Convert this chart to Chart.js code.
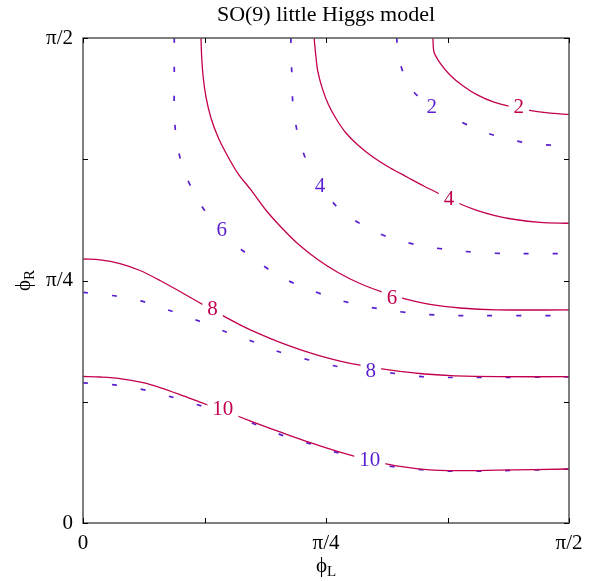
<!DOCTYPE html>
<html>
<head>
<meta charset="utf-8">
<script src="https://cdn.jsdelivr.net/npm/chart.js@4"></script>
<style>
html, body { margin: 0; padding: 0; background: #fff; }
</style>
</head>
<body>
<canvas id="grafico" width="597" height="581"></canvas>
<script>
// angles in degrees: 0..90 stands for 0..π/2
const tickLabels = {0: '0', 45: 'π/4', 90: 'π/2'};

// solid contours [phiL, phiR]
const solid2 = [[64.8,90],[65.0,87.4],[66.1,85.4],[68.0,83.1],[70.4,81.1],[73.1,79.4],[76.1,78.1],[79.1,77.3],[82.4,76.6],[86.1,76.1],[90,75.8]];
const solid4 = [[42.8,90],[43.1,86.85],[43.5,83.7],[44.3,80.7],[45.4,77.75],[46.9,74.97],[48.7,72.37],[50.9,70.15],[53.7,67.92],[56.9,65.88],[60.0,64.21],[63.1,62.54],[66.1,61.05],[69.44,59.38],[72.78,58.08],[76.3,57.06],[80.0,56.32],[84.63,55.8],[90,55.62]];
const solid6 = [[21.85,90],[21.96,86.85],[22.22,83.13],[22.78,79.05],[23.7,75.16],[25.0,71.63],[26.67,68.29],[28.7,64.85],[31.11,61.8],[33.7,58.27],[36.48,55.11],[39.63,51.96],[43.33,48.99],[47.22,46.49],[51.3,44.44],[55.37,42.87],[59.63,41.57],[64.26,40.55],[69.81,39.9],[76.67,39.56],[90,39.53]];
const solid8 = [[0,48.99],[3.15,48.84],[6.85,48.15],[10.56,46.86],[14.26,45.0],[17.96,42.96],[21.67,40.83],[25.37,38.75],[29.07,36.78],[32.78,35.04],[36.48,33.51],[40.19,32.18],[43.89,31.03],[47.59,30.06],[51.3,29.28],[55.0,28.65],[58.7,28.13],[63.33,27.65],[68.89,27.32],[76.67,27.15],[90,27.15]];
const solid10 = [[0,27.19],[3.15,27.09],[6.85,26.81],[11.11,26.04],[14.26,25.14],[17.96,23.84],[21.67,22.45],[25.37,21.06],[29.07,19.67],[32.78,18.26],[36.48,16.89],[40.19,15.55],[43.89,14.29],[47.59,13.14],[51.3,12.1],[55.0,11.21],[58.7,10.5],[63.7,9.91],[68.89,9.71],[76.67,9.8],[90,10.02]];

// dashed contours [phiL, phiR]
const dashed2 = [[58.1,90],[58.4,86.5],[60.2,81.4],[62.4,78.8],[64.6,76.9],[68.6,75.1],[73.6,72.8],[78.8,71.2],[84.1,70.3],[90,70.0]];
const dashed4 = [[38.5,90],[38.5,88.0],[38.7,82.6],[38.9,77.4],[39.8,72.1],[41.5,66.9],[43.9,62.7],[47.6,58.1],[52.3,55.0],[57.2,52.8],[62.5,51.5],[67.7,50.7],[73.3,50.2],[78.5,50.0],[90,50.0]];
const dashed6 = [[16.9,90],[16.9,86.7],[16.9,81.3],[16.9,75.9],[17.4,70.5],[18.7,65.3],[21.1,60.3],[23.8,56.2],[25.7,54.4],[27.8,52.0],[32.2,48.6],[36.5,45.7],[41.5,43.5],[46.4,41.7],[51.7,40.3],[57.2,39.4],[62.5,38.8],[67.7,38.5],[73.3,38.5],[90,38.5]];
const dashed8 = [[0,42.8],[6.2,42.1],[11.5,41.0],[16.7,39.2],[21.7,37.4],[26.9,35.3],[31.9,33.5],[36.8,31.6],[42.1,30.2],[47.4,29.0],[53.3,28.3],[58.1,27.7],[63.4,27.1],[68.6,27.0],[90,27.1]];
const dashed10 = [[0,26.0],[6.2,25.6],[11.8,24.6],[16.7,23.3],[22.0,21.7],[27.2,20.0],[32.2,18.2],[37.4,16.1],[42.4,14.6],[47.6,12.9],[53.1,11.5],[56.3,10.6],[63.7,9.8],[68.6,9.6],[76.7,9.7],[90,10.0]];

// contour labels [text, phiL, phiR]
const solidLabels = [['2',80.7,77.2],['4',67.8,60.3],['6',57.2,41.9],['8',24.0,39.8],['10',25.9,21.2]];
const dashedLabels = [['2',64.6,77.2],['4',43.9,62.7],['6',25.7,54.4],['8',53.3,28.3],['10',53.1,11.7]];

const corSolid = '#c2004e';
const corDashed = '#5a1fd0';
const fonte = '"Liberation Serif", "Times New Roman", serif';

function toPoints(list){
    return list.map(p => ({x: p[0], y: p[1]}));
}

const datasets = [];
[solid2, solid4, solid6, solid8, solid10].forEach(c => {
    datasets.push({data: toPoints(c), borderColor: corSolid, borderWidth: 1.3});
});
[dashed2, dashed4, dashed6, dashed8, dashed10].forEach(c => {
    datasets.push({data: toPoints(c), borderColor: corDashed, borderWidth: 1.7, borderDash: [5, 24]});
});
datasets.forEach(d => {
    d.showLine = true;
    d.pointRadius = 0;
    d.tension = 0.3;
    d.fill = false;
});

// frame, inward ticks, contour labels and titles
const extras = {
    id: 'extras',
    afterDatasetsDraw(chart){
        const ctx = chart.ctx;
        const a = chart.chartArea;
        const x = chart.scales.x;
        const y = chart.scales.y;
        ctx.save();

        ctx.font = '21px ' + fonte;
        ctx.textAlign = 'center';
        ctx.textBaseline = 'middle';
        function drawLabels(list, color){
            list.forEach(l => {
                const px = x.getPixelForValue(l[1]);
                const py = y.getPixelForValue(l[2]);
                const w = ctx.measureText(l[0]).width + 10;
                ctx.fillStyle = '#fff';
                ctx.fillRect(px - w / 2, py - 10, w, 20);
                ctx.fillStyle = color;
                ctx.fillText(l[0], px, py + 1);
            });
        }
        drawLabels(solidLabels, corSolid);
        drawLabels(dashedLabels, corDashed);

        ctx.strokeStyle = '#555';
        ctx.lineWidth = 1.5;
        ctx.strokeRect(a.left, a.top, a.right - a.left, a.bottom - a.top);

        ctx.strokeStyle = '#000';
        ctx.lineWidth = 1;
        ctx.beginPath();
        x.ticks.forEach(t => {
            const px = Math.round(x.getPixelForValue(t.value)) + 0.5;
            ctx.moveTo(px, a.bottom); ctx.lineTo(px, a.bottom - 5);
            ctx.moveTo(px, a.top); ctx.lineTo(px, a.top + 5);
        });
        y.ticks.forEach(t => {
            const py = Math.round(y.getPixelForValue(t.value)) + 0.5;
            ctx.moveTo(a.left, py); ctx.lineTo(a.left + 5, py);
            ctx.moveTo(a.right, py); ctx.lineTo(a.right - 5, py);
        });
        ctx.stroke();

        // title
        ctx.fillStyle = '#000';
        ctx.font = '22px ' + fonte;
        ctx.fillText('SO(9) little Higgs model', (a.left + a.right) / 2, 15);

        // axis titles with subscripts
        function axisTitle(main, sub, cx, cy, rot){
            ctx.save();
            ctx.translate(cx, cy);
            ctx.rotate(rot);
            ctx.font = '21px ' + fonte;
            const w1 = ctx.measureText(main).width;
            ctx.font = '15px ' + fonte;
            const w2 = ctx.measureText(sub).width;
            const start = -(w1 + w2) / 2;
            ctx.textAlign = 'left';
            ctx.textBaseline = 'alphabetic';
            ctx.font = '21px ' + fonte;
            ctx.fillText(main, start, 6);
            ctx.font = '15px ' + fonte;
            ctx.fillText(sub, start + w1, 10);
            ctx.restore();
        }
        axisTitle('ϕ', 'L', (a.left + a.right) / 2, 566, 0);
        axisTitle('ϕ', 'R', 24, (a.top + a.bottom) / 2, -Math.PI / 2);

        ctx.restore();
    }
};

const grafico = new Chart(document.getElementById('grafico').getContext('2d'), {
    type: 'scatter',
    data: {datasets: datasets},
    options: {
        responsive: false,
        animation: false,
        layout: {padding: {top: 38, right: 28, bottom: 0, left: 0}},
        plugins: {
            legend: {display: false},
            title: {display: false},
            tooltip: {enabled: false}
        },
        scales: {
            x: {
                type: 'linear', min: 0, max: 90,
                grid: {display: false, drawTicks: false},
                border: {display: false},
                ticks: {
                    stepSize: 22.5, autoSkip: false, maxRotation: 0, padding: 8,
                    color: '#000', font: {family: fonte, size: 21},
                    callback: v => tickLabels[v] ?? ''
                },
                afterFit: s => { s.height = 58; }
            },
            y: {
                type: 'linear', min: 0, max: 90,
                grid: {display: false, drawTicks: false},
                border: {display: false},
                ticks: {
                    stepSize: 22.5, autoSkip: false, padding: 10,
                    color: '#000', font: {family: fonte, size: 21},
                    callback: v => tickLabels[v] ?? ''
                },
                afterFit: s => { s.width = 83; }
            }
        }
    },
    plugins: [extras]
});
</script>
</body>
</html>
